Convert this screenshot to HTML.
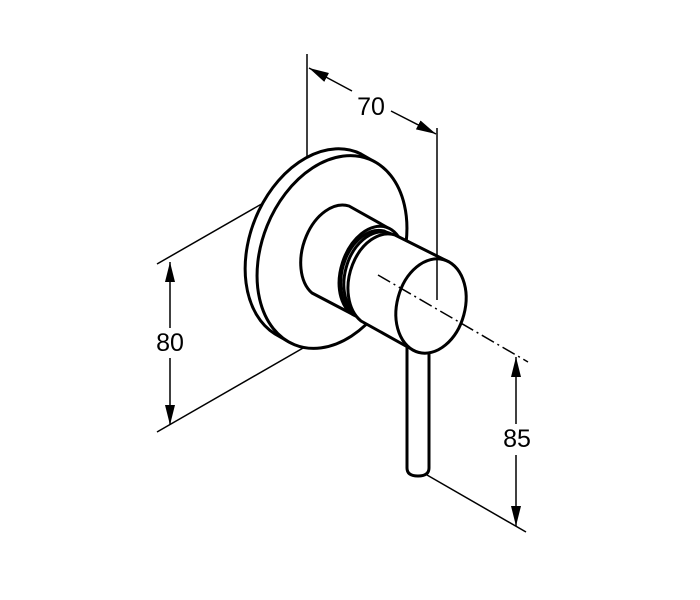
<!DOCTYPE html>
<html><head><style>
html,body{margin:0;padding:0;background:#fff;}
svg{display:block;}
text{font-family:"Liberation Sans",sans-serif;font-size:25px;fill:#000;}
</style></head><body>
<svg width="700" height="600" viewBox="0 0 700 600" xmlns="http://www.w3.org/2000/svg">
<defs>
<marker id="a" viewBox="0 0 20 10" refX="20" refY="5" markerWidth="20" markerHeight="10" markerUnits="userSpaceOnUse" orient="auto"><path d="M0,0 L20,5 L0,10 Z" fill="#000"/></marker>
</defs>
<g stroke="#000" fill="none" stroke-width="1.5">
<line x1="307" y1="54" x2="307" y2="158"/>
<line x1="437" y1="128" x2="437" y2="300"/>
<line x1="157" y1="264" x2="312" y2="175"/>
<line x1="157" y1="432" x2="317" y2="340"/>
<line x1="427" y1="475" x2="526" y2="532"/>
<line x1="352" y1="91" x2="309" y2="68" marker-end="url(#a)"/>
<line x1="391" y1="111" x2="436" y2="134" marker-end="url(#a)"/>
<line x1="170" y1="328" x2="170" y2="262" marker-end="url(#a)"/>
<line x1="170" y1="358" x2="170" y2="425" marker-end="url(#a)"/>
<line x1="516" y1="424" x2="516" y2="357" marker-end="url(#a)"/>
<line x1="516" y1="455" x2="516" y2="526" marker-end="url(#a)"/>
</g>
<g stroke="#000" stroke-width="3" fill="#fff" stroke-linejoin="round">
<path d="M361,154 L375,162 L289,342 L275,334 A70,100 22 0 1 361,154 Z"/>
<ellipse cx="332" cy="252" rx="70" ry="100" transform="rotate(22 332 252)"/>
<path d="M349,206 L390,229 L354,315 L312,293 A32,48 18 0 1 349,206 Z"/>
<ellipse cx="372" cy="272" rx="31" ry="47" transform="rotate(18 372 272)"/>
<path d="M384,231 L392,235 L360,317 L352,313 A31,45 15 0 1 384,231 Z"/>
<ellipse cx="376" cy="276" rx="31" ry="45" transform="rotate(15 376 276)"/>
<path d="M395,235 L449,262 L413,350 L361,321 A33,47 15 0 1 395,235 Z"/>
<path d="M407,345 L407,468 Q407,476 418,476 Q429,476 429,468 L429,345"/>
<ellipse cx="431" cy="306" rx="34" ry="48" transform="rotate(15 431 306)"/>
</g>
<line x1="378" y1="275" x2="528" y2="362" stroke="#000" stroke-width="1.5" stroke-dasharray="14,4,2,4"/>
<line x1="437" y1="258" x2="437" y2="300" stroke="#000" stroke-width="1.5"/>
<text x="371" y="115" text-anchor="middle">70</text>
<text x="170" y="351" text-anchor="middle">80</text>
<text x="517" y="447" text-anchor="middle">85</text>
</svg>
</body></html>
